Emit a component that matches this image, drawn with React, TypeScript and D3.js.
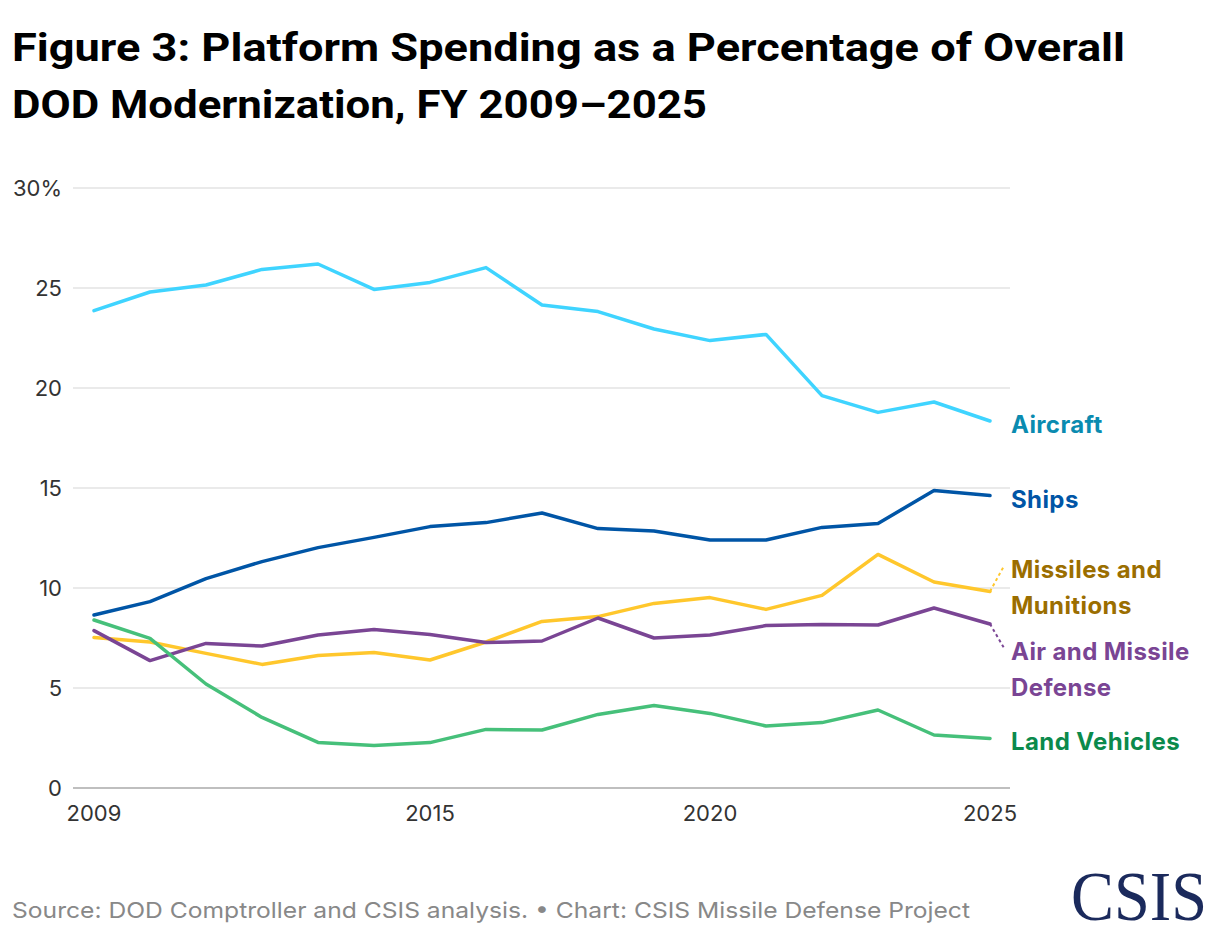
import { useEffect, useRef } from "react";
import * as d3 from "d3";

const years = d3.range(2009, 2026);

const aircraft = [23.87, 24.8, 25.15, 25.93, 26.2, 24.93, 25.28, 26.02, 24.15, 23.82, 22.95, 22.37, 22.68, 19.62, 18.78, 19.3, 18.35];
const ships = [8.65, 9.32, 10.47, 11.32, 12.02, 12.53, 13.07, 13.27, 13.75, 12.97, 12.85, 12.4, 12.4, 13.03, 13.23, 14.87, 14.62];
const missiles = [7.53, 7.3, 6.73, 6.18, 6.62, 6.78, 6.4, 7.3, 8.33, 8.57, 9.23, 9.52, 8.93, 9.63, 11.68, 10.3, 9.83];
const airMissileDefense = [7.87, 6.37, 7.23, 7.1, 7.65, 7.93, 7.67, 7.27, 7.35, 8.5, 7.5, 7.65, 8.12, 8.18, 8.15, 9.0, 8.2];
const landVehicles = [8.4, 7.48, 5.2, 3.53, 2.28, 2.13, 2.27, 2.93, 2.9, 3.68, 4.13, 3.73, 3.1, 3.27, 3.9, 2.65, 2.48];

const yTicks = [0, 5, 10, 15, 20, 25, 30];
const xTicks = [2009, 2015, 2020, 2025];

const series = [
  { name: ["Aircraft"], values: aircraft, line: "#3fd4ff", label: "#0a8bb0", labelY: 18.35, dotted: false },
  { name: ["Ships"], values: ships, line: "#0055a6", label: "#0055a6", labelY: 14.62, dotted: false },
  { name: ["Missiles and", "Munitions"], values: missiles, line: "#ffc72c", label: "#9b6e00", labelY: 11.1, dotted: true },
  { name: ["Air and Missile", "Defense"], values: airMissileDefense, line: "#7a4594", label: "#7a4594", labelY: 7.0, dotted: true },
  { name: ["Land Vehicles"], values: landVehicles, line: "#46c07a", label: "#0b8a4c", labelY: 2.48, dotted: false },
];

const W = 1220;
const H = 936;

export default function App() {
  const svgRef = useRef<SVGSVGElement>(null);

  useEffect(() => {
    const svg = d3.select(svgRef.current);
    svg.selectAll("*").remove();

    const x = d3.scaleLinear().domain([2009, 2025]).range([94, 990]);
    const y = d3.scaleLinear().domain([0, 30]).range([788, 188]);
    const font = "Inter, 'Noto Sans', sans-serif";

    svg.append("rect").attr("width", W).attr("height", H).attr("fill", "white");

    // title
    const title = svg
      .append("text")
      .attr("font-family", "Roboto, Inter, sans-serif")
      .attr("font-weight", 700)
      .attr("font-size", 38)
      .attr("fill", "#000");
    title.append("tspan").attr("x", 12).attr("y", 61).attr("textLength", 1113).attr("lengthAdjust", "spacingAndGlyphs")
      .text("Figure 3: Platform Spending as a Percentage of Overall");
    title.append("tspan").attr("x", 12).attr("y", 118).attr("textLength", 695).attr("lengthAdjust", "spacingAndGlyphs")
      .text("DOD Modernization, FY 2009–2025");

    // grid
    svg
      .append("g")
      .selectAll("line")
      .data(yTicks.filter((d) => d > 0))
      .join("line")
      .attr("x1", 73)
      .attr("x2", 1010)
      .attr("y1", (d) => y(d))
      .attr("y2", (d) => y(d))
      .attr("stroke", "#e3e3e3")
      .attr("stroke-width", 1.5);

    svg
      .append("line")
      .attr("x1", 73)
      .attr("x2", 1010)
      .attr("y1", y(0))
      .attr("y2", y(0))
      .attr("stroke", "#aaaaaa")
      .attr("stroke-width", 1.5);

    svg
      .append("g")
      .selectAll("text")
      .data(yTicks)
      .join("text")
      .attr("x", 62)
      .attr("y", (d) => y(d))
      .attr("dy", "0.35em")
      .attr("text-anchor", "end")
      .attr("font-family", font)
      .attr("font-size", 22)
      .attr("fill", "#333")
      .text((d) => (d === 30 ? "30%" : String(d)));

    svg
      .append("g")
      .selectAll("text")
      .data(xTicks)
      .join("text")
      .attr("x", (d) => x(d))
      .attr("y", 821)
      .attr("text-anchor", "middle")
      .attr("font-family", font)
      .attr("font-size", 22)
      .attr("fill", "#333")
      .text((d) => String(d));

    const line = d3
      .line<number>()
      .x((_, i) => x(years[i]))
      .y((d) => y(d));

    series.forEach((s) => {
      svg
        .append("path")
        .attr("d", line(s.values))
        .attr("fill", "none")
        .attr("stroke", s.line)
        .attr("stroke-width", 3.5)
        .attr("stroke-linejoin", "round")
        .attr("stroke-linecap", "round");

      const last = s.values[s.values.length - 1];
      if (s.dotted) {
        svg
          .append("line")
          .attr("x1", x(2025))
          .attr("y1", y(last))
          .attr("x2", x(2025) + 14)
          .attr("y2", y(s.labelY))
          .attr("stroke", s.line)
          .attr("stroke-width", 2)
          .attr("stroke-dasharray", "3,3");
      }

      const t = svg
        .append("text")
        .attr("font-family", font)
        .attr("font-weight", 700)
        .attr("font-size", 24)
        .attr("letter-spacing", 0.4)
        .attr("fill", s.label);
      s.name.forEach((n, i) => {
        t.append("tspan")
          .attr("x", 1011)
          .attr("y", y(s.labelY) + 12 + i * 36)
          .text(n);
      });
    });

    // footer
    svg
      .append("text")
      .attr("x", 12)
      .attr("y", 918)
      .attr("textLength", 958)
      .attr("lengthAdjust", "spacingAndGlyphs")
      .attr("font-family", font)
      .attr("font-size", 22)
      .attr("fill", "#888")
      .text("Source: DOD Comptroller and CSIS analysis. • Chart: CSIS Missile Defense Project");

    svg
      .append("text")
      .attr("transform", "translate(1071,920) scale(1,1.12)")
      .attr("textLength", 136)
      .attr("lengthAdjust", "spacingAndGlyphs")
      .attr("font-family", "'Liberation Serif', 'DejaVu Serif', serif")
      .attr("font-size", 62)
      .attr("fill", "#1b2a5c")
      .text("CSIS");
  }, []);

  return (
    <div style={{ margin: -8 }}>
      <svg ref={svgRef} width={W} height={H} style={{ display: "block" }}></svg>
    </div>
  );
}
